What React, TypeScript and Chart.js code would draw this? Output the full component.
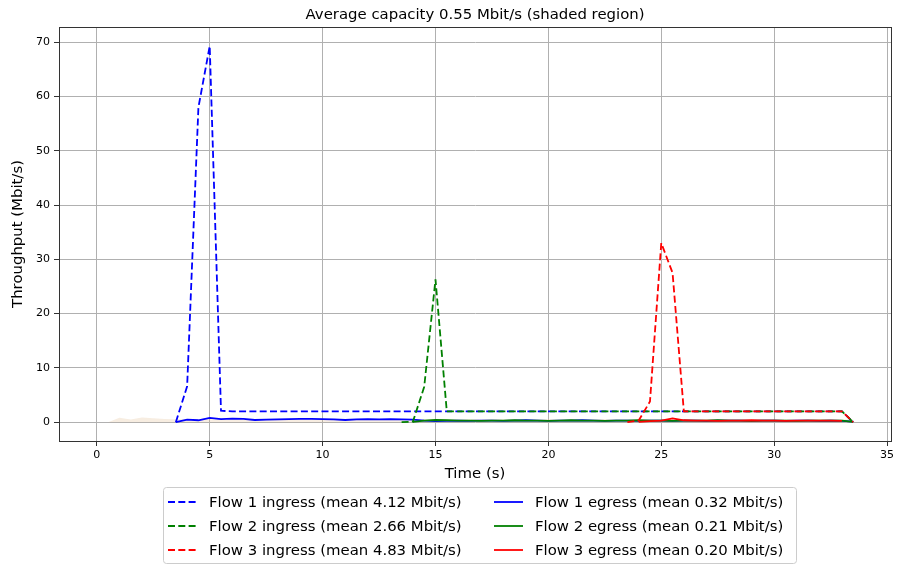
import React, { useEffect, useRef } from "react";
import { Chart, registerables } from "chart.js";
Chart.register(...registerables);

const N = null;

const time = [
  0, 0.5, 1, 1.5, 2, 2.5, 3, 3.5, 4, 4.5,
  5, 5.5, 6, 6.5, 7, 7.5, 8, 8.5, 9, 9.5,
  10, 10.5, 11, 11.5, 12, 12.5, 13, 13.5, 14, 14.5,
  15, 15.5, 16, 16.5, 17, 17.5, 18, 18.5, 19, 19.5,
  20, 20.5, 21, 21.5, 22, 22.5, 23, 23.5, 24, 24.5,
  25, 25.5, 26, 26.5, 27, 27.5, 28, 28.5, 29, 29.5,
  30, 30.5, 31, 31.5, 32, 32.5, 33, 33.5,
];

const capacity = [
  0, 0, 0.8, 0.5, 0.85, 0.7, 0.6, 0.55, 0.55, 0.5,
  0.6, 0.55, 0.55, 0.5, 0.55, 0.6, 0.55, 0.5, 0.55, 0.55,
  0.6, 0.55, 0.5, 0.55, 0.55, 0.6, 0.55, 0.5, 0.55, 0.55,
  0.6, 0.55, 0.5, 0.55, 0.55, 0.6, 0.55, 0.5, 0.55, 0.55,
  0.6, 0.55, 0.5, 0.55, 0.55, 0.6, 0.55, 0.5, 0.55, 0.55,
  0.6, 0.55, 0.5, 0.55, 0.55, 0.6, 0.55, 0.5, 0.55, 0.55,
  0.6, 0.55, 0.5, 0.55, 0.55, 0.6, 0.55, 0.5,
];

const flow1Ingress = [
  N, N, N, N, N, N, N, 0, 6.6, 58.0,
  69.3, 2.1, 2.0, 2.0, 2.0, 2.0, 2.0, 2.0, 2.0, 2.0,
  2.0, 2.0, 2.0, 2.0, 2.0, 2.0, 2.0, 2.0, 2.0, 2.0,
  2.0, 2.0, 2.0, 2.0, 2.0, 2.0, 2.0, 2.0, 2.0, 2.0,
  2.0, 2.0, 2.0, 2.0, 2.0, 2.0, 2.0, 2.0, 2.0, 2.0,
  2.0, 2.0, 2.0, 2.0, 2.0, 2.0, 2.0, 2.0, 2.0, 2.0,
  2.0, 2.0, 2.0, 2.0, 2.0, 2.0, 2.0, 0,
];

const flow1Egress = [
  N, N, N, N, N, N, N, 0, 0.45, 0.35,
  0.8, 0.55, 0.65, 0.6, 0.4, 0.45, 0.5, 0.55, 0.6, 0.6,
  0.55, 0.5, 0.4, 0.5, 0.55, 0.5, 0.55, 0.5, 0.45, 0.3,
  0.2, 0.25, 0.3, 0.25, 0.3, 0.3, 0.25, 0.3, 0.35, 0.3,
  0.25, 0.3, 0.3, 0.35, 0.3, 0.25, 0.3, 0.3, 0.25, 0.3,
  0.3, 0.25, 0.3, 0.3, 0.25, 0.3, 0.3, 0.3, 0.25, 0.3,
  0.3, 0.25, 0.3, 0.3, 0.25, 0.3, 0.25, 0.1,
];

const flow2Ingress = [
  N, N, N, N, N, N, N, N, N, N,
  N, N, N, N, N, N, N, N, N, N,
  N, N, N, N, N, N, N, 0, 0.1, 6.5,
  26.3, 2.0, 2.0, 2.0, 2.0, 2.0, 2.0, 2.0, 2.0, 2.0,
  2.0, 2.0, 2.0, 2.0, 2.0, 2.0, 2.0, 2.0, 2.0, 2.0,
  2.0, 2.0, 2.0, 2.0, 2.0, 2.0, 2.0, 2.0, 2.0, 2.0,
  2.0, 2.0, 2.0, 2.0, 2.0, 2.0, 2.0, 0,
];

const flow2Egress = [
  N, N, N, N, N, N, N, N, N, N,
  N, N, N, N, N, N, N, N, N, N,
  N, N, N, N, N, N, N, N, 0.05, 0.3,
  0.4, 0.35, 0.3, 0.3, 0.25, 0.3, 0.3, 0.35, 0.3, 0.3,
  0.25, 0.3, 0.35, 0.3, 0.3, 0.25, 0.3, 0.3, 0.35, 0.3,
  0.3, 0.25, 0.3, 0.3, 0.3, 0.35, 0.3, 0.3, 0.25, 0.3,
  0.3, 0.3, 0.25, 0.3, 0.3, 0.3, 0.3, 0.05,
];

const flow3Ingress = [
  N, N, N, N, N, N, N, N, N, N,
  N, N, N, N, N, N, N, N, N, N,
  N, N, N, N, N, N, N, N, N, N,
  N, N, N, N, N, N, N, N, N, N,
  N, N, N, N, N, N, N, 0, 0.3, 3.8,
  33.0, 27.5, 2.0, 2.0, 2.0, 2.0, 2.0, 2.0, 2.0, 2.0,
  2.0, 2.0, 2.0, 2.0, 2.0, 2.0, 2.0, 0,
];

const flow3Egress = [
  N, N, N, N, N, N, N, N, N, N,
  N, N, N, N, N, N, N, N, N, N,
  N, N, N, N, N, N, N, N, N, N,
  N, N, N, N, N, N, N, N, N, N,
  N, N, N, N, N, N, N, N, 0.05, 0.2,
  0.3, 0.7, 0.35, 0.3, 0.3, 0.25, 0.3, 0.3, 0.35, 0.3,
  0.3, 0.25, 0.3, 0.3, 0.3, 0.3, 0.25, N,
];

const xTicks = [0, 5, 10, 15, 20, 25, 30, 35];
const yTicks = [0, 10, 20, 30, 40, 50, 60, 70];

const titleText = "Average capacity 0.55 Mbit/s (shaded region)";
const xLabel = "Time (s)";
const yLabel = "Throughput (Mbit/s)";

const legendLabels = [
  "Flow 1 ingress (mean 4.12 Mbit/s)",
  "Flow 2 ingress (mean 2.66 Mbit/s)",
  "Flow 3 ingress (mean 4.83 Mbit/s)",
  "Flow 1 egress (mean 0.32 Mbit/s)",
  "Flow 2 egress (mean 0.21 Mbit/s)",
  "Flow 3 egress (mean 0.20 Mbit/s)",
];

const FONT = "'DejaVu Sans', 'Noto Sans', sans-serif";
const DASH = [7, 3.3];
const LW = 1.8;
const BIG = 14.9;

export default function App() {
  const ref = useRef<HTMLCanvasElement>(null);

  useEffect(() => {
    const canvas = ref.current;
    if (!canvas) return;
    const pts = (vals: (number | null)[]) =>
      time.map((t, i) => ({ x: t, y: vals[i] }));

    const line = (vals: (number | null)[], color: string, dashed: boolean) => ({
      data: pts(vals),
      borderColor: color,
      backgroundColor: color,
      borderWidth: LW,
      borderDash: dashed ? DASH : [],
      pointRadius: 0,
      tension: 0,
      fill: false,
      spanGaps: false,
    });

    const legendItems = [
      { label: legendLabels[0], color: "#0000ff", dashed: true },
      { label: legendLabels[1], color: "#008000", dashed: true },
      { label: legendLabels[2], color: "#ff0000", dashed: true },
      { label: legendLabels[3], color: "#0000ff", dashed: false },
      { label: legendLabels[4], color: "#008000", dashed: false },
      { label: legendLabels[5], color: "#ff0000", dashed: false },
    ];

    const decor = {
      id: "decor",
      afterDraw(chart: any) {
        const c = chart.ctx;
        const a = chart.chartArea;
        c.save();
        // frame
        c.strokeStyle = "#333";
        c.lineWidth = 1;
        c.setLineDash([]);
        c.strokeRect(Math.round(a.left) + 0.5, Math.round(a.top) + 0.5, Math.round(a.right - a.left), Math.round(a.bottom - a.top));
        // title
        c.fillStyle = "#000";
        c.font = `${BIG}px ${FONT}`;
        c.textAlign = "center";
        c.textBaseline = "middle";
        c.fillText(titleText, (a.left + a.right) / 2, 15);
        // legend box
        const bx = 163.5, by = 487.5, bw = 633, bh = 76;
        c.beginPath();
        (c as any).roundRect(bx, by, bw, bh, 3);
        c.fillStyle = "rgba(255,255,255,0.8)";
        c.fill();
        c.strokeStyle = "#cccccc";
        c.lineWidth = 1;
        c.stroke();
        const colX = [168, 494];
        const rowY = [502, 526, 550];
        c.textAlign = "left";
        c.textBaseline = "middle";
        c.font = `${BIG}px ${FONT}`;
        legendItems.forEach((it, i) => {
          const col = Math.floor(i / 3);
          const row = i % 3;
          const x0 = colX[col];
          const y0 = rowY[row];
          c.beginPath();
          c.strokeStyle = it.color;
          c.lineWidth = LW;
          c.setLineDash(it.dashed ? DASH : []);
          c.moveTo(x0, y0);
          c.lineTo(x0 + 29, y0);
          c.stroke();
          c.setLineDash([]);
          c.fillStyle = "#000";
          c.fillText(it.label, x0 + 41, y0 + 1);
        });
        c.restore();
      },
    };

    const chart = new Chart(canvas, {
      type: "line",
      data: {
        datasets: [
          line(flow3Egress, "#ff0000", false),
          line(flow3Ingress, "#ff0000", true),
          line(flow2Egress, "#008000", false),
          line(flow2Ingress, "#008000", true),
          line(flow1Egress, "#0000ff", false),
          line(flow1Ingress, "#0000ff", true),
          {
            data: pts(capacity),
            borderColor: "rgba(0,0,0,0)",
            backgroundColor: "rgba(222,184,135,0.25)",
            borderWidth: 0,
            pointRadius: 0,
            tension: 0,
            fill: "origin",
          },
        ] as any,
      },
      options: {
        animation: false,
        responsive: false,
        devicePixelRatio: 1,
        layout: { padding: { top: 27, right: 7, left: 0, bottom: 0 } },
        plugins: {
          legend: { display: false },
          title: { display: false },
          tooltip: { enabled: false },
        },
        scales: {
          x: {
            type: "linear",
            min: -1.675,
            max: 35.175,
            afterBuildTicks: (s: any) => {
              s.ticks = xTicks.map((v) => ({ value: v }));
            },
            afterFit: (s: any) => {
              s.height = 126;
            },
            ticks: {
              font: { family: FONT, size: 11 },
              color: "#000",
              padding: 3,
              maxRotation: 0,
              autoSkip: false,
              callback: (v: any) => String(v),
            },
            grid: {
              color: "#b0b0b0",
              lineWidth: 1,
              tickLength: 5,
              tickColor: "#333",
              drawTicks: true,
            },
            border: { display: true, color: "#333", width: 1 },
            title: {
              display: true,
              text: xLabel,
              font: { family: FONT, size: BIG },
              color: "#000",
              padding: { top: 0, bottom: 84.2 },
            },
          },
          y: {
            type: "linear",
            min: -3.47,
            max: 72.8,
            afterBuildTicks: (s: any) => {
              s.ticks = yTicks.map((v) => ({ value: v }));
            },
            afterFit: (s: any) => {
              s.width = 59;
            },
            ticks: {
              font: { family: FONT, size: 11 },
              color: "#000",
              padding: 4,
              autoSkip: false,
              callback: (v: any) => String(v),
            },
            grid: {
              color: "#b0b0b0",
              lineWidth: 1,
              tickLength: 5,
              tickColor: "#333",
              drawTicks: true,
            },
            border: { display: true, color: "#333", width: 1 },
            title: {
              display: true,
              text: yLabel,
              font: { family: FONT, size: BIG },
              color: "#000",
              padding: { top: 9.2, bottom: 0 },
            },
          },
        },
      } as any,
      plugins: [decor],
    });
    return () => chart.destroy();
  }, []);

  return (
    <div style={{ position: "fixed", left: 0, top: 0, width: 898, height: 567, background: "#fff" }}>
      <canvas ref={ref} width={898} height={567} style={{ display: "block" }} />
    </div>
  );
}
